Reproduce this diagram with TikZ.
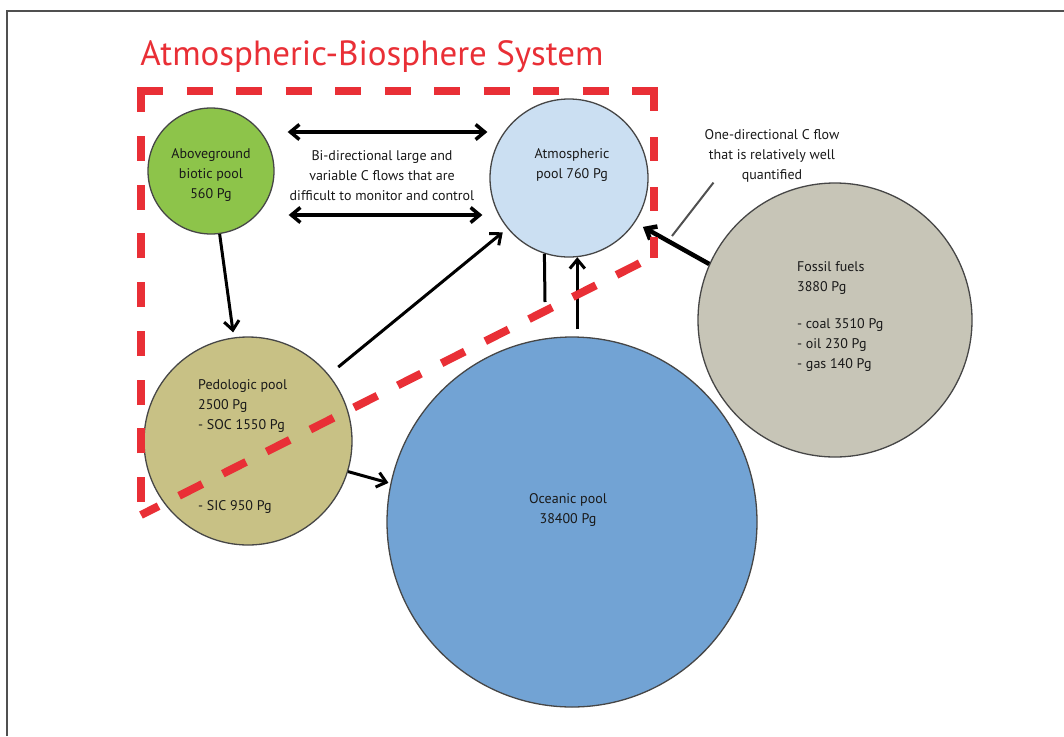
\documentclass[tikz,border=0pt]{standalone}
\usepackage{fontspec}
\setmainfont{PT Sans}
\usetikzlibrary{arrows.meta,calc,positioning}

\definecolor{sysred}{RGB}{233,47,54}
\definecolor{agbgreen}{RGB}{141,196,74}
\definecolor{atmblue}{RGB}{203,223,242}
\definecolor{fosgray}{RGB}{199,197,183}
\definecolor{pedkhaki}{RGB}{200,193,133}
\definecolor{ocnblue}{RGB}{114,163,212}
\definecolor{poolline}{RGB}{70,70,70}
\definecolor{txtgray}{RGB}{25,25,25}
\definecolor{framegray}{RGB}{80,80,80}

\begin{document}
\begin{tikzpicture}[x=1pt,y=-1pt,>={Straight Barb[length=9pt,width=15pt]},
  pool/.style={circle,draw=poolline,line width=1.3pt,inner sep=0pt},
  txt/.style={font=\fontsize{14}{20}\selectfont,text=txtgray,inner sep=0pt,align=center},
  flow/.style={->,line width=3pt},
  biflow/.style={<->,line width=3.5pt},
  leader/.style={draw=framegray,line width=2pt},
  bound/.style={draw=sysred,line width=8pt}]
  \useasboundingbox (0,0) rectangle (1064,736);
  \draw[framegray,line width=2pt] (7,736) -- (7,11) -- (1064,11);

  \node[font=\fontsize{35}{40}\selectfont,text=sysred,inner sep=0pt] (title) at (372,57) {Atmospheric-Biosphere System};

  % pools
  \node[pool,fill=agbgreen,minimum size=126pt] (agb) at (211,171) {};
  \node[pool,fill=atmblue,minimum size=158pt] (atm) at (569,178) {};
  \node[pool,fill=fosgray,minimum size=274pt] (fos) at (835,320) {};
  \node[pool,fill=pedkhaki,minimum size=208pt] (ped) at (248,441) {};
  \node[pool,fill=ocnblue,minimum size=370pt] (ocn) at (572,522) {};

  \node[txt] (agbtxt) at (211,175) {Aboveground\\biotic pool\\560 Pg};
  \node[txt] (atmtxt) at (572,165) {Atmospheric\\pool 760 Pg};
  \node[txt,align=left,anchor=west] (fostxt) at (797,317) {Fossil fuels\\3880 Pg\\[17pt]- coal 3510 Pg\\- oil 230 Pg\\- gas 140 Pg};
  \node[txt,align=left,anchor=west] (pedtxt) at (198,447) {Pedologic pool\\2500 Pg\\- SOC 1550 Pg\\[61pt]- SIC 950 Pg};
  \node[txt] (ocntxt) at (568,510) {Oceanic pool\\38400 Pg};

  \node[txt] (bitxt) at (382,176) {Bi-directional large and\\variable C flows that are\\difficult to monitor and control};
  \node[txt] (onetxt) at (772,156) {One-directional C flow\\that is relatively well\\quantified};

  % flows
  \coordinate (bitop) at (0,132);
  \coordinate (bibot) at (0,215);
  \draw[biflow,shorten <=13pt,shorten >=2pt] (agb.east |- bitop) -- (atm.west |- bitop);
  \draw[biflow,shorten <=14pt,shorten >=7pt] (agb.east |- bibot) -- (atm.west |- bibot);

  \draw[flow,shorten >=5pt] (agb) -- (ped);
  \draw[flow,shorten <=12pt,shorten >=6pt] (ped) -- (atm);
  \draw[flow,shorten >=2pt] (ped.-17) -- (ocn.168);
  \draw[flow,shorten <=7pt] (atm.-84 |- ocn.north) -- (atm.-84);
  \coordinate (dnend) at (545,302);
  \draw[line width=3pt] (atm.-108) -- (dnend);
  \draw[flow,line width=4.5pt,shorten >=9pt] (fos.156) -- (atm.-34);

  \coordinate (leadend) at (672,236);
  \draw[leader] ([xshift=9pt]onetxt.south west) -- (leadend);

  % system boundary
  \draw[bound,dash pattern=on 25pt off 23.75pt] (141,502) -- (141,87);
  \draw[bound,dash pattern=on 26pt off 23.5pt] (137,91) -- (658,91);
  \draw[bound,dash pattern=on 24pt off 26pt] (654,87) -- (654,258);
  \draw[bound,dash pattern=on 26pt off 23pt,dash phase=33pt] (654,256) -- (141,515);
\end{tikzpicture}
\end{document}
